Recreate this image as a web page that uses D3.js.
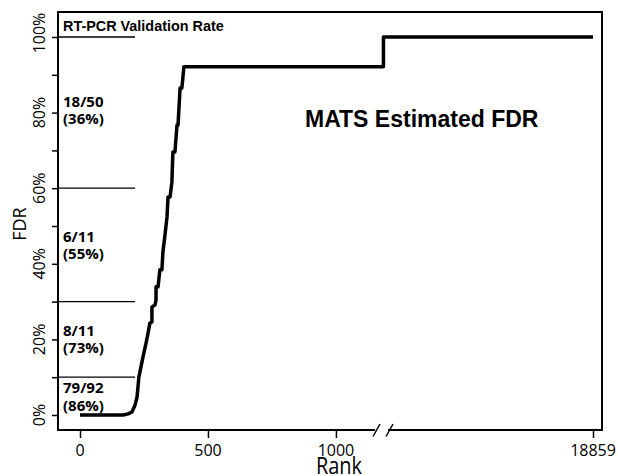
<!DOCTYPE html>
<html>
<head>
<meta charset="utf-8">
<script src="https://cdn.jsdelivr.net/npm/d3@7"></script>
<style>
  body { margin: 0; background: #fff; }
  svg { display: block; }
</style>
</head>
<body>
<svg id="chart" width="618" height="476"></svg>
<script>
// MATS estimated FDR by rank, with RT-PCR validation rates per FDR band

// curve (rank, FDR as fraction)
const ranks = [0, 168, 188, 203, 215, 223, 230, 246, 258, 266, 273, 281, 281, 293, 297, 297, 305,
  312, 320, 324, 332, 340, 344, 352, 359, 363, 371, 379, 383, 391, 398, 406, 1300, 1300, 18859];
const fdr = [0, 0, 0.003, 0.008, 0.026, 0.048, 0.10, 0.153, 0.19, 0.217, 0.243, 0.246, 0.286, 0.291, 0.304, 0.339, 0.339,
  0.384, 0.384, 0.431, 0.476, 0.524, 0.577, 0.577, 0.616, 0.696, 0.696, 0.767, 0.767, 0.865, 0.865, 0.921, 0.921, 1.0, 1.0];

// x axis: broken after rank 1180
const breakRank = 1180;
const xTicks = [0, 500, 1000, 18859];
const yTicks = [0, 0.1, 0.2, 0.3, 0.4, 0.5, 0.6, 0.7, 0.8, 0.9, 1.0];
const yLabelled = [0, 0.2, 0.4, 0.6, 0.8, 1.0];

// validation band boundaries and labels
const bandLines = [1.0, 0.6, 0.3, 0.1];
const bandLineEnd = 215;
const bandCounts = ['18/50', '6/11', '8/11', '79/92'];
const bandRates = ['(36%)', '(55%)', '(73%)', '(86%)'];
const bandLabelY = [0.815, 0.458, 0.209, 0.058];

const BOX = { left: 58, right: 602, top: 12, bottom: 430 };

const svg = d3.select('#chart');

const x = d3.scaleLinear()
  .domain([0, breakRank, 18859])
  .range([80, 382, 593]);
const y = d3.scaleLinear()
  .domain([0, 1])
  .range([415, 37]);

// frame
svg.append('rect')
  .attr('x', BOX.left).attr('y', BOX.top)
  .attr('width', BOX.right - BOX.left).attr('height', BOX.bottom - BOX.top)
  .attr('fill', 'none').attr('stroke', '#000').attr('stroke-width', 2);

// y axis
const yAxisG = svg.append('g')
  .attr('transform', `translate(${BOX.left},0)`)
  .call(d3.axisLeft(y).tickValues(yTicks).tickSize(6).tickFormat(''));
yAxisG.select('.domain').remove();
yAxisG.selectAll('line').attr('stroke-width', 1.5);

svg.selectAll('text.ylab')
  .data(yLabelled)
  .join('text')
  .attr('class', 'ylab')
  .attr('transform', d => `translate(45,${d === 1 ? y(d) - 4 : y(d)}) rotate(-90)`)
  .attr('text-anchor', 'middle')
  .style('font-family', 'Open Sans')
  .style('font-size', '16px')
  .text(d => d3.format('.0%')(d));

svg.append('text')
  .attr('transform', 'translate(26,224) rotate(-90)')
  .attr('text-anchor', 'middle')
  .style('font-family', 'Open Sans')
  .style('font-size', '18px')
  .text('FDR');

// x axis
const xAxisG = svg.append('g')
  .attr('transform', `translate(0,${BOX.bottom})`)
  .call(d3.axisBottom(x).tickValues(xTicks).tickSize(8).tickFormat(''));
xAxisG.select('.domain').remove();
xAxisG.selectAll('line').attr('stroke-width', 1.5);

svg.selectAll('text.xlab')
  .data(xTicks)
  .join('text')
  .attr('class', 'xlab')
  .attr('x', d => x(d))
  .attr('y', 456)
  .attr('text-anchor', 'middle')
  .style('font-family', 'Open Sans')
  .style('font-size', '16px')
  .text(d => d);

svg.append('text')
  .attr('transform', 'translate(339,474) scale(1,1.15)')
  .attr('text-anchor', 'middle')
  .style('font-family', 'Open Sans')
  .style('font-size', '20px')
  .text('Rank');

// axis break
const bx = x(breakRank);
svg.append('rect')
  .attr('x', bx - 7).attr('y', BOX.bottom - 2)
  .attr('width', 13).attr('height', 4)
  .attr('fill', '#fff');
[-5.5, 7.5].forEach(o => {
  svg.append('line')
    .attr('x1', bx + o - 3.5).attr('y1', BOX.bottom + 6.5)
    .attr('x2', bx + o + 3.5).attr('y2', BOX.bottom - 6)
    .attr('stroke', '#000').attr('stroke-width', 1.5);
});

// validation band lines
svg.selectAll('line.band')
  .data(bandLines)
  .join('line')
  .attr('class', 'band')
  .attr('x1', BOX.left).attr('x2', x(bandLineEnd))
  .attr('y1', d => y(d)).attr('y2', d => y(d))
  .attr('stroke', '#000').attr('stroke-width', 1.3);

svg.append('text')
  .attr('x', 63).attr('y', 31)
  .style('font-family', 'Liberation Sans, Arial')
  .style('font-weight', 'bold')
  .style('font-size', '14.4px')
  .text('RT-PCR Validation Rate');

const bandG = svg.selectAll('g.bandlab')
  .data(bandCounts)
  .join('g')
  .attr('class', 'bandlab')
  .style('font-family', 'Open Sans')
  .style('font-weight', 'bold')
  .style('font-size', '15px');
bandG.append('text')
  .attr('x', 63)
  .attr('y', (d, i) => y(bandLabelY[i]))
  .text(d => d);
bandG.append('text')
  .attr('x', 63)
  .attr('y', (d, i) => y(bandLabelY[i]) + 17.5)
  .text((d, i) => bandRates[i]);

// FDR curve
const line = d3.line()
  .x((d, i) => x(ranks[i]))
  .y(d => y(d));
svg.append('path')
  .datum(fdr)
  .attr('d', line)
  .attr('fill', 'none')
  .attr('stroke', '#000')
  .attr('stroke-width', 3.5)
  .attr('stroke-linejoin', 'round');

svg.append('text')
  .attr('x', 305).attr('y', 127)
  .style('font-family', 'Liberation Sans, Arial')
  .style('font-weight', 'bold')
  .style('font-size', '23px')
  .text('MATS Estimated FDR');
</script>
</body>
</html>
